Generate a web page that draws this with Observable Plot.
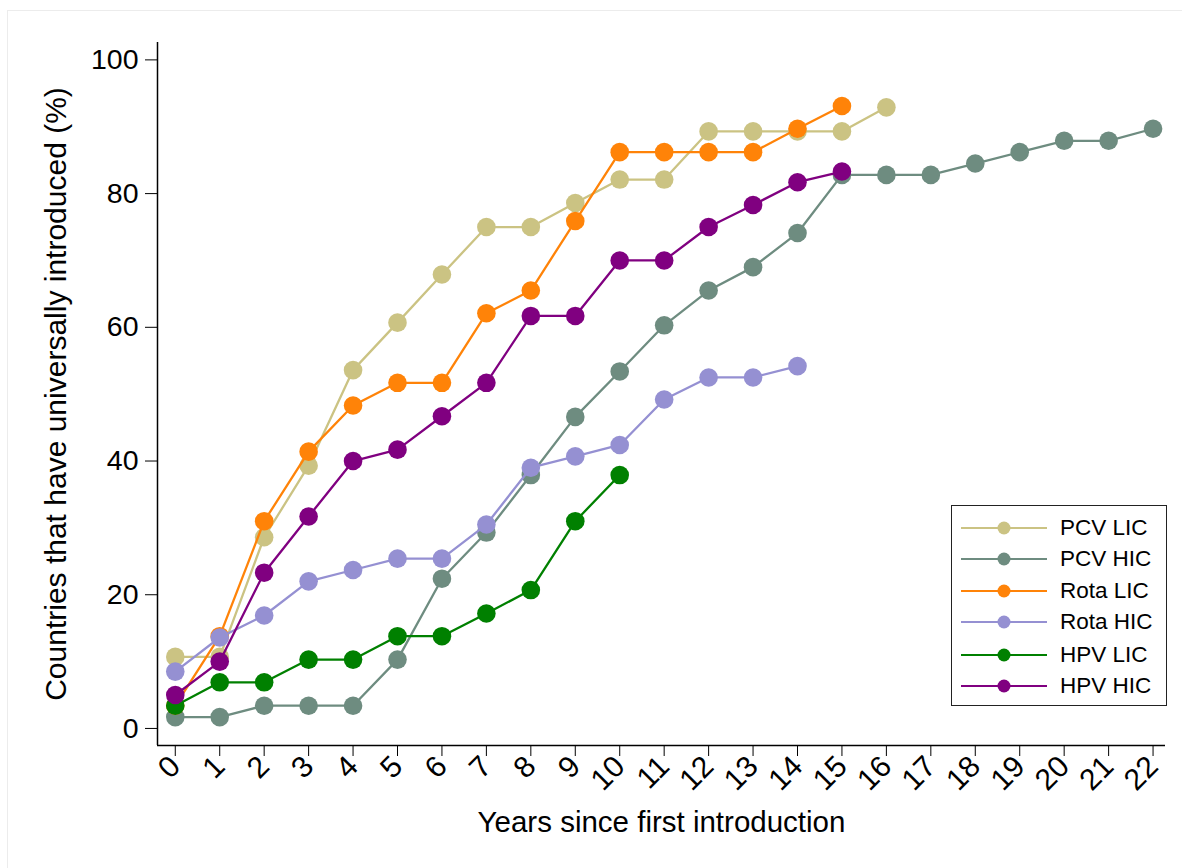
<!DOCTYPE html>
<html><head><meta charset="utf-8">
<script src="https://cdn.jsdelivr.net/npm/d3@7"></script>
<script src="https://cdn.jsdelivr.net/npm/@observablehq/plot@0.6"></script>
<style>
body{margin:0;background:#fff;font-family:"Liberation Sans",Arial,Helvetica,sans-serif;}
#wrap{position:relative;width:1182px;height:868px;overflow:hidden;}
#frameline{position:absolute;left:7px;top:10px;width:1200px;height:900px;border:1px solid #ececec;box-sizing:border-box;}
#chart{position:absolute;left:0;top:0;}
#legend{position:absolute;left:951px;top:505px;width:216px;height:201px;border:1.5px solid #222;background:#fff;box-sizing:border-box;}
.row{position:absolute;left:0;width:214px;height:26px;}
.row svg{position:absolute;left:8px;top:0;}
.row span{position:absolute;left:108px;top:0;line-height:26px;font-size:22.5px;color:#000;}
</style></head><body><div id="wrap"><div id="frameline"></div><div id="chart"></div><div id="legend"></div></div>
<script>
const seriesNames = ["PCV LIC","PCV HIC","Rota LIC","Rota HIC","HPV LIC","HPV HIC"];
const seriesColors = ["#cbc383","#6e8c80","#ff8308","#9590d2","#008000","#800080"];
const pcvLIC  = [10.7,10.7,28.6,39.3,53.6,60.7,67.9,75.0,75.0,78.6,82.1,82.1,89.3,89.3,89.3,89.3,92.9];
const pcvHIC  = [1.7,1.7,3.4,3.4,3.4,10.3,22.4,29.3,37.9,46.6,53.4,60.3,65.5,69.0,74.1,82.8,82.8,82.8,84.5,86.2,87.9,87.9,89.7];
const rotaLIC = [3.4,13.8,31.0,41.4,48.3,51.7,51.7,62.1,65.5,75.9,86.2,86.2,86.2,86.2,89.7,93.1];
const rotaHIC = [8.5,13.6,16.9,22.0,23.7,25.4,25.4,30.5,39.0,40.7,42.4,49.2,52.5,52.5,54.2];
const hpvLIC  = [3.4,6.9,6.9,10.3,10.3,13.8,13.8,17.2,20.7,31.0,37.9];
const hpvHIC  = [5.0,10.0,23.3,31.7,40.0,41.7,46.7,51.7,61.7,61.7,70.0,70.0,75.0,78.3,81.7,83.3];
const xTicks = [0,1,2,3,4,5,6,7,8,9,10,11,12,13,14,15,16,17,18,19,20,21,22];
const yTicks = [0,20,40,60,80,100];
const xTitle = "Years since first introduction";
const yTitle = "Countries that have universally introduced (%)";

const seriesValues = [pcvLIC,pcvHIC,rotaLIC,rotaHIC,hpvLIC,hpvHIC];
const xDomain = [-0.4, 22.28];
const yDomain = [-2.55, 102.6];

const marks = [];
seriesValues.forEach((vals, i) => {
  const rows = vals.map((v, k) => ({year: k, value: v, series: seriesNames[i]}));
  marks.push(Plot.line(rows, {x: "year", y: "value", stroke: seriesColors[i], strokeWidth: 2.3}));
  marks.push(Plot.dot(rows, {x: "year", y: "value", fill: seriesColors[i], r: 9.3, stroke: "none"}));
});

const chart = Plot.plot({
  width: 1182,
  height: 868,
  marginLeft: 157,
  marginRight: 17,
  marginTop: 42,
  marginBottom: 123,
  style: {fontFamily: '"Liberation Sans", Arial, Helvetica, sans-serif', fontSize: "28px", color: "#000", background: "transparent"},
  x: {domain: xDomain},
  y: {domain: yDomain},
  marks: [
    Plot.axisY({ticks: yTicks, tickSize: 12, tickPadding: 7, fontSize: 28.5, label: null}),
    Plot.axisY({ticks: [], tickSize: 0, fontSize: 30, label: yTitle, labelAnchor: "center", labelArrow: "none", labelOffset: 113}),
    Plot.axisX({ticks: xTicks, tickRotate: -45, tickSize: 11, tickPadding: 5, fontSize: 30, label: null}),
    Plot.axisX({ticks: [], tickSize: 0, fontSize: 29.5, label: xTitle, labelAnchor: "center", labelArrow: "none", labelOffset: 86}),
    Plot.ruleX([xDomain[0]], {stroke: "#000", strokeWidth: 1.5}),
    Plot.ruleY([yDomain[0]], {stroke: "#000", strokeWidth: 1.5}),
    ...marks
  ]
});
document.getElementById("chart").appendChild(chart);

const legend = document.getElementById("legend");
const rowTops = [8.5, 40, 71.5, 103, 135.5, 167];
seriesNames.forEach((name, i) => {
  const row = document.createElement("div");
  row.className = "row";
  row.style.top = rowTops[i] + "px";
  row.innerHTML = `<svg width="88" height="26"><line x1="1" x2="87" y1="13" y2="13" stroke="${seriesColors[i]}" stroke-width="2"/><circle cx="44" cy="13" r="6.5" fill="${seriesColors[i]}"/></svg><span>${name}</span>`;
  legend.appendChild(row);
});
</script></body></html>
